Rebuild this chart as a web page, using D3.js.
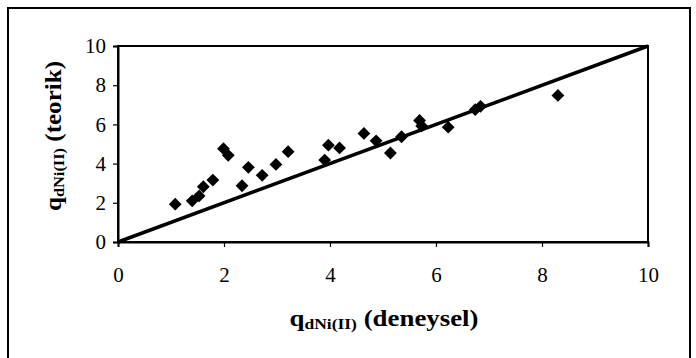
<!DOCTYPE html>
<html>
<head>
<meta charset="utf-8">
<script src="https://cdn.jsdelivr.net/npm/d3@7"></script>
<style>
  html, body { margin: 0; padding: 0; background: #fff; }
  svg { display: block; }
  svg text { font-family: "Liberation Serif", "Times New Roman", serif; fill: #000; }
</style>
</head>
<body>
<svg id="chart" width="696" height="358"></svg>
<script>
// Experimental vs. theoretical Ni(II) uptake
const experimental = [1.08, 1.40, 1.53, 1.61, 1.79, 1.99, 2.08, 2.34, 2.46, 2.72, 2.98, 3.21,
                      3.90, 3.97, 4.18, 4.64, 4.87, 5.14, 5.35, 5.69, 5.73, 6.23, 6.74, 6.84, 8.30];
const theoretical  = [1.93, 2.10, 2.35, 2.82, 3.16, 4.76, 4.42, 2.87, 3.81, 3.40, 3.96, 4.61,
                      4.18, 4.94, 4.80, 5.54, 5.16, 4.54, 5.37, 6.20, 5.92, 5.86, 6.75, 6.92, 7.48];
const ideal = [[0, 0], [10, 10]];
const xTicks = [0, 2, 4, 6, 8, 10];
const yTicks = [0, 2, 4, 6, 8, 10];

const svg = d3.select("#chart");
const plot = { left: 118, right: 648, top: 46, bottom: 242 };

const x = d3.scaleLinear().domain([0, 10]).range([plot.left, plot.right]);
const y = d3.scaleLinear().domain([0, 10]).range([plot.bottom, plot.top]);

// outer frame
svg.append("rect")
  .attr("x", 8).attr("y", 8)
  .attr("width", 682).attr("height", 360)
  .attr("fill", "none").attr("stroke", "#000").attr("stroke-width", 2);

// plot box
svg.append("rect")
  .attr("x", plot.left).attr("y", plot.top)
  .attr("width", plot.right - plot.left).attr("height", plot.bottom - plot.top)
  .attr("fill", "none").attr("stroke", "#000").attr("stroke-width", 2);

const xAxis = svg.append("g")
  .attr("transform", `translate(0,${plot.bottom})`)
  .call(d3.axisBottom(x).tickValues(xTicks).tickSize(5).tickPadding(20).tickFormat(d3.format("d")));
const yAxis = svg.append("g")
  .attr("transform", `translate(${plot.left},0)`)
  .call(d3.axisLeft(y).tickValues(yTicks).tickSize(5).tickPadding(7).tickFormat(d3.format("d")));

[xAxis, yAxis].forEach(g => {
  g.attr("font-family", null).attr("font-size", null);
  g.select(".domain").attr("stroke-width", 2);
  g.selectAll(".tick line").attr("stroke-width", 1.2);
  g.selectAll(".tick text")
    .style("font-family", "'Liberation Serif', 'Times New Roman', serif")
    .style("font-size", "21px");
});

// y = x reference line
svg.append("path")
  .datum(ideal)
  .attr("d", d3.line().x(d => x(d[0])).y(d => y(d[1])))
  .attr("stroke", "#000").attr("stroke-width", 3.5).attr("fill", "none");

// data markers
const diamond = d3.symbol().type(d3.symbolSquare).size(82);
svg.append("g")
  .selectAll("path")
  .data(experimental.map((v, i) => [v, theoretical[i]]))
  .join("path")
  .attr("d", diamond)
  .attr("transform", d => `translate(${x(d[0])},${y(d[1])}) rotate(45)`)
  .attr("fill", "#000");

// axis titles, drawn with the wide letter spacing of the original layout
function title(sel, label, length) {
  sel.style("font-weight", "bold").style("font-size", "23px")
    .attr("text-anchor", "middle")
    .attr("textLength", length).attr("lengthAdjust", "spacingAndGlyphs");
  sel.append("tspan").text("q");
  sel.append("tspan").style("font-size", "15px").attr("dy", 3).text("dNi(II)");
  sel.append("tspan").attr("dy", -3).text(" " + label);
}

title(svg.append("text")
  .attr("x", 384).attr("y", 326), "(deneysel)", 189);

title(svg.append("text")
  .attr("transform", `translate(61,136) rotate(-90)`), "(teorik)", 150);
</script>
</body>
</html>
